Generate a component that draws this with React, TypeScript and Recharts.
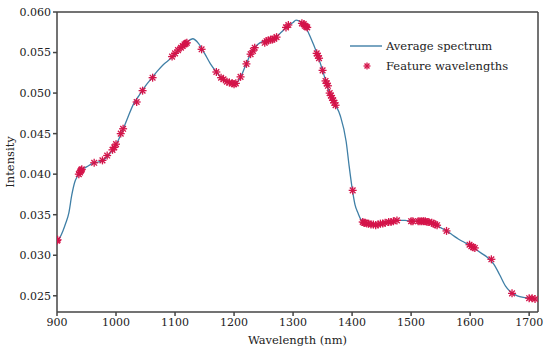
import { ComposedChart, Line, Scatter, XAxis, YAxis, ReferenceLine } from "recharts";

// average spectrum
const wavelengths = [
  900, 905, 910, 915, 920, 925, 930, 935, 940, 945, 950, 960, 970, 980, 990,
  1000, 1010, 1020, 1030, 1040, 1050, 1060, 1070, 1080, 1090, 1100, 1110, 1120,
  1130, 1140, 1150, 1160, 1170, 1180, 1190, 1200, 1210, 1220, 1230, 1240, 1250,
  1260, 1270, 1280, 1290, 1300, 1305, 1310, 1320, 1330, 1340, 1350, 1360, 1370,
  1380, 1390, 1395, 1400, 1405, 1410, 1415, 1420, 1430, 1440, 1450, 1460, 1470,
  1480, 1490, 1500, 1510, 1520, 1530, 1540, 1550, 1560, 1570, 1580, 1590, 1600,
  1610, 1620, 1630, 1640, 1650, 1660, 1670, 1680, 1690, 1700, 1710,
];
const intensities = [
  0.0318, 0.0322, 0.033, 0.034, 0.0352, 0.0374, 0.039, 0.0398, 0.0404, 0.0407,
  0.0409, 0.0413, 0.0415, 0.0418, 0.0426, 0.0436, 0.0452, 0.047, 0.0487, 0.0498,
  0.0509, 0.0518, 0.0527, 0.0535, 0.0541, 0.0547, 0.0556, 0.0563, 0.0567, 0.0561,
  0.0549, 0.0536, 0.0526, 0.0518, 0.0513, 0.0511, 0.0518, 0.0535, 0.0551, 0.056,
  0.0564, 0.0566, 0.0569, 0.0575, 0.0582, 0.0587, 0.059, 0.0589, 0.0583, 0.0568,
  0.055, 0.0528, 0.0504, 0.0488, 0.0472, 0.044, 0.041, 0.0383, 0.0362, 0.0352,
  0.0344, 0.0341, 0.0338, 0.0337, 0.0339, 0.034, 0.0342, 0.0343, 0.0343, 0.0342,
  0.0342, 0.0342, 0.0341, 0.0338, 0.0334, 0.033, 0.0325, 0.032, 0.0316, 0.0312,
  0.0307, 0.0302, 0.0297, 0.0289, 0.0276, 0.0262, 0.0254, 0.025, 0.0248, 0.0247,
  0.0246,
];

// selected feature wavelengths
const featureWl = [
  900, 901, 937, 939, 940, 941, 942, 963, 977, 985, 994, 997, 1000, 1008, 1012,
  1035, 1045, 1062, 1095, 1100, 1105, 1110, 1113, 1116, 1118, 1120, 1145, 1170,
  1178, 1182, 1188, 1192, 1197, 1200, 1203, 1211, 1221, 1228, 1232, 1235, 1252,
  1255, 1258, 1262, 1265, 1268, 1272, 1288, 1292, 1315, 1318, 1320, 1322, 1324,
  1340, 1342, 1344, 1350, 1355, 1357, 1359, 1362, 1364, 1366, 1368, 1370, 1372,
  1401, 1418, 1420, 1422, 1425, 1428, 1432, 1436, 1440, 1444, 1448, 1452, 1456,
  1462, 1466, 1470, 1476, 1500, 1503, 1512, 1515, 1518, 1521, 1524, 1527, 1530,
  1535, 1538, 1541, 1544, 1560, 1599, 1602, 1605, 1608, 1636, 1671, 1700, 1705,
  1710,
];
const featureInt = [
  0.0318, 0.0319, 0.04, 0.0402, 0.0404, 0.0405, 0.0406, 0.0414, 0.0417, 0.0423,
  0.043, 0.0433, 0.0437, 0.045, 0.0456, 0.0489, 0.0503, 0.0519, 0.0545, 0.0549,
  0.0553, 0.0556, 0.0558, 0.056, 0.0561, 0.0562, 0.0554, 0.0526, 0.0519, 0.0517,
  0.0514, 0.0513, 0.0512, 0.0511, 0.0512, 0.052, 0.0536, 0.0548, 0.0552, 0.0556,
  0.0562, 0.0564, 0.0565, 0.0566, 0.0566, 0.0567, 0.0569, 0.0581, 0.0584, 0.0586,
  0.0585, 0.0583, 0.0582, 0.0581, 0.0549, 0.0546, 0.0543, 0.0528, 0.0515, 0.0512,
  0.0509, 0.05, 0.0497, 0.0494, 0.0491, 0.0488, 0.0485, 0.038, 0.0341, 0.034,
  0.034, 0.0339, 0.0339, 0.0338, 0.0338, 0.0337, 0.0338, 0.0339, 0.0339, 0.034,
  0.0341, 0.0341, 0.0342, 0.0343, 0.0342, 0.0342, 0.0342, 0.0342, 0.0342, 0.0342,
  0.0342, 0.0341, 0.0341, 0.034, 0.0339, 0.0338, 0.0337, 0.033, 0.0313, 0.0311,
  0.031, 0.0309, 0.0295, 0.0253, 0.0247, 0.0247, 0.0246,
];

const xTicks = [900, 1000, 1100, 1200, 1300, 1400, 1500, 1600, 1700];
const yTicks = [0.025, 0.03, 0.035, 0.04, 0.045, 0.05, 0.055, 0.06];

const spectrum = wavelengths.map((w, i) => ({ w, v: intensities[i] }));
const features = featureWl.map((w, i) => ({ w, v: featureInt[i] }));

const LINE = "#3f7fa6";
const STAR = "#d4144a";
const AXIS = "#444";
const FONT = "DejaVu Serif";

function Asterisk({ cx, cy, r = 4 }: { cx?: number; cy?: number; r?: number }) {
  if (cx == null || cy == null) return null;
  const d = r * 0.707;
  return (
    <g stroke={STAR} strokeWidth={1.3}>
      <line x1={cx - r} y1={cy} x2={cx + r} y2={cy} />
      <line x1={cx} y1={cy - r} x2={cx} y2={cy + r} />
      <line x1={cx - d} y1={cy - d} x2={cx + d} y2={cy + d} />
      <line x1={cx - d} y1={cy + d} x2={cx + d} y2={cy - d} />
    </g>
  );
}

function LegendBox() {
  return (
    <div
      style={{
        position: "absolute",
        left: 348,
        top: 36,
        fontFamily: FONT,
        fontSize: 11.5,
        color: "#222",
        lineHeight: "20px",
      }}
    >
      <div style={{ display: "flex", alignItems: "center" }}>
        <svg width={38} height={20}>
          <line x1={2} y1={10} x2={34} y2={10} stroke={LINE} strokeWidth={1.4} />
        </svg>
        <span>Average spectrum</span>
      </div>
      <div style={{ display: "flex", alignItems: "center" }}>
        <svg width={38} height={20}>
          <Asterisk cx={19} cy={10} r={3.5} />
        </svg>
        <span>Feature wavelengths</span>
      </div>
    </div>
  );
}

export default function App() {
  const tick = { fontFamily: FONT, fontSize: 11, fill: "#222" };
  const labelStyle = { fontFamily: FONT, fontSize: 11.5, fill: "#222" };
  return (
    <div style={{ position: "absolute", left: 0, top: 0, width: 550, height: 353, background: "#fff" }}>
      <ComposedChart width={550} height={353} data={spectrum} margin={{ top: 12, right: 12, bottom: 6, left: 0 }}>
        <XAxis
          type="number"
          dataKey="w"
          domain={[900, 1715]}
          ticks={xTicks}
          allowDataOverflow
          height={35}
          tickSize={4}
          tickMargin={2}
          stroke={AXIS}
          strokeWidth={1.5}
          tick={tick}
          label={{ value: "Wavelength (nm)", position: "insideBottom", offset: 3, style: labelStyle }}
        />
        <YAxis
          type="number"
          dataKey="v"
          domain={[0.023, 0.06]}
          ticks={yTicks}
          allowDataOverflow
          width={57}
          tickSize={4}
          tickMargin={2}
          stroke={AXIS}
          strokeWidth={1.5}
          tick={tick}
          tickFormatter={(v: number) => v.toFixed(3)}
          label={{ value: "Intensity", angle: -90, position: "insideLeft", offset: 10, style: { ...labelStyle, textAnchor: "middle" } }}
        />
        <ReferenceLine y={0.06} stroke={AXIS} strokeWidth={1.5} />
        <ReferenceLine x={1715} stroke={AXIS} strokeWidth={1.5} />
        <Line dataKey="v" type="monotone" stroke={LINE} strokeWidth={1.3} dot={false} isAnimationActive={false} />
        <Scatter data={features} dataKey="v" shape={(p: any) => <Asterisk cx={p.cx} cy={p.cy} />} isAnimationActive={false} />
      </ComposedChart>
      <LegendBox />
    </div>
  );
}
